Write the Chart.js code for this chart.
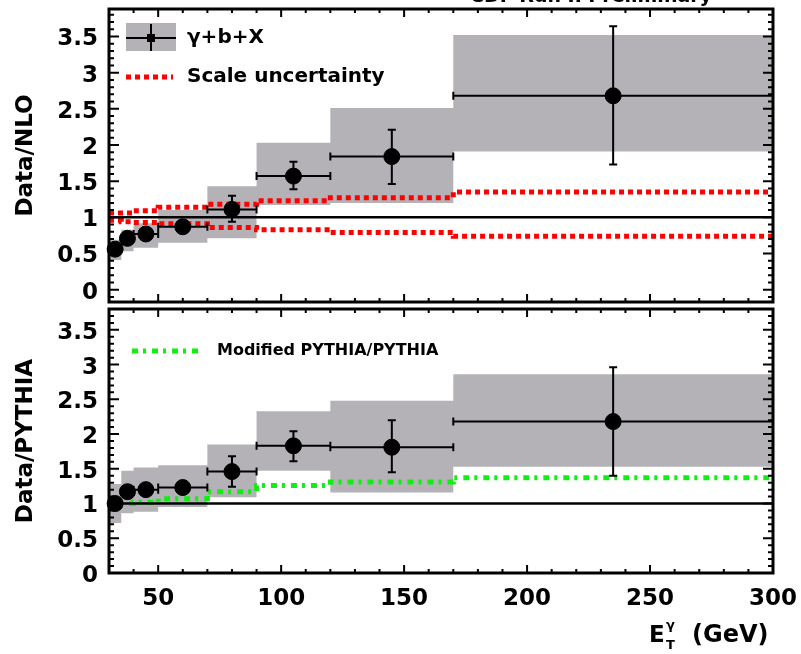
<!doctype html>
<html lang="en">
<head>
<meta charset="utf-8">
<title>Data/NLO and Data/PYTHIA</title>
<style>
  * { margin: 0; padding: 0; }
  body { width: 801px; height: 654px; background: #fff; position: relative; overflow: hidden; }
  canvas { position: absolute; left: 0; }
  #nloChart { top: 0; }
  #pythiaChart { top: 300px; }
</style>
</head>
<body>
<canvas id="nloChart" width="801" height="311"></canvas>
<canvas id="pythiaChart" width="801" height="354"></canvas>
<script src="https://cdn.jsdelivr.net/npm/chart.js/dist/chart.umd.min.js"></script>
<script>
// binning in E_T (GeV)
const binEdges = [30, 35, 40, 50, 70, 90, 120, 170, 300];
const binCenters = [32.5, 37.5, 45, 60, 80, 105, 145, 235];
const xTicks = [50, 100, 150, 200, 250, 300];
const yTicks = [0, 0.5, 1, 1.5, 2, 2.5, 3, 3.5];

// upper panel: data / NLO
const nloRatio = [0.56, 0.71, 0.77, 0.87, 1.11, 1.57, 1.84, 2.68];
const nloErrHi = [0.60, 0.75, 0.81, 0.91, 1.30, 1.77, 2.21, 3.64];
const nloErrLo = [0.52, 0.67, 0.73, 0.83, 0.94, 1.39, 1.46, 1.73];
const nloSystHi = [0.69, 0.83, 0.92, 1.10, 1.43, 2.03, 2.51, 3.52];
const nloSystLo = [0.41, 0.53, 0.58, 0.65, 0.71, 1.17, 1.20, 1.91];
const scaleHi = [1.06, 1.06, 1.09, 1.14, 1.18, 1.23, 1.27, 1.35];
const scaleLo = [0.96, 0.94, 0.93, 0.91, 0.86, 0.83, 0.79, 0.74];

// lower panel: data / PYTHIA
const pyRatio = [1.00, 1.17, 1.20, 1.23, 1.46, 1.83, 1.81, 2.18];
const pyErrHi = [1.04, 1.21, 1.24, 1.27, 1.68, 2.04, 2.20, 2.96];
const pyErrLo = [0.96, 1.13, 1.16, 1.19, 1.24, 1.61, 1.45, 1.40];
const pySystHi = [1.28, 1.47, 1.52, 1.55, 1.85, 2.33, 2.48, 2.86];
const pySystLo = [0.72, 0.86, 0.88, 0.95, 1.09, 1.47, 1.16, 1.53];
const modPythia = [1.00, 1.00, 1.02, 1.07, 1.17, 1.26, 1.31, 1.37];

const font = 'DejaVu Sans';
const gray = 'rgb(180,178,183)';
const red = '#ff0000';
const green = '#11ee11';
const redDash = [5, 4];
const greenDash = [6, 5, 3, 6];

// histogram-like step points: value of bin i held from edge i to edge i+1
function steps(vals) {
  return binEdges.map((x, i) => ({ x, y: vals[Math.min(i, vals.length - 1)] }));
}

function datasetsFor(ratio, errLo, errHi, systLo, systHi, label, curves) {
  const sets = [{
    label,
    data: binCenters.map((x, i) => ({ x, y: ratio[i] })),
    errLo, errHi,
    showLine: false,
    pointRadius: 8,
    pointHoverRadius: 8,
    pointBackgroundColor: '#000',
    pointBorderColor: '#000',
    clip: false,
    order: 0
  }, {
    label: 'unity',
    data: [{ x: 30, y: 1 }, { x: 300, y: 1 }],
    borderColor: '#000',
    borderWidth: 2.5,
    pointRadius: 0,
    order: 1
  }];
  curves.forEach(c => sets.push({
    label: c.label,
    data: steps(c.values),
    stepped: true,
    borderColor: c.color,
    borderWidth: 5,
    borderDash: c.dash,
    pointRadius: 0,
    order: 2
  }));
  sets.push({
    label: 'syst',
    data: steps(systHi),
    stepped: true,
    borderColor: 'rgba(0,0,0,0)',
    borderWidth: 1,
    backgroundColor: gray,
    fill: '+1',
    pointRadius: 0,
    order: 3
  }, {
    label: 'syst low',
    data: steps(systLo),
    stepped: true,
    borderColor: 'rgba(0,0,0,0)',
    borderWidth: 1,
    pointRadius: 0,
    order: 3
  });
  return sets;
}

const errorBars = {
  id: 'errorBars',
  beforeDatasetDraw(chart, args) {
    const ds = chart.data.datasets[args.index];
    if (!ds.errLo) return;
    const { ctx, scales: { x, y } } = chart;
    ctx.save();
    ctx.strokeStyle = '#000';
    ctx.lineWidth = 2;
    ctx.beginPath();
    ds.data.forEach((p, i) => {
      const px = x.getPixelForValue(p.x), py = y.getPixelForValue(p.y);
      const x0 = x.getPixelForValue(binEdges[i]), x1 = x.getPixelForValue(binEdges[i + 1]);
      const y0 = y.getPixelForValue(ds.errLo[i]), y1 = y.getPixelForValue(ds.errHi[i]);
      ctx.moveTo(x0, py); ctx.lineTo(x1, py);
      ctx.moveTo(x0, py - 4); ctx.lineTo(x0, py + 4);
      ctx.moveTo(x1, py - 4); ctx.lineTo(x1, py + 4);
      ctx.moveTo(px, y0); ctx.lineTo(px, y1);
      ctx.moveTo(px - 4, y0); ctx.lineTo(px + 4, y0);
      ctx.moveTo(px - 4, y1); ctx.lineTo(px + 4, y1);
    });
    ctx.stroke();
    ctx.restore();
  }
};

// ROOT style frame with inward ticks on all four sides
const frame = {
  id: 'frame',
  afterDraw(chart) {
    const { ctx, chartArea: { left, right, top, bottom }, scales: { x, y } } = chart;
    ctx.save();
    ctx.strokeStyle = '#000';
    ctx.lineWidth = 2;
    ctx.beginPath();
    for (let v = 30; v <= 300; v += 10) {
      const px = x.getPixelForValue(v);
      const len = v % 50 === 0 ? 8 : 4;
      ctx.moveTo(px, bottom); ctx.lineTo(px, bottom - len);
      ctx.moveTo(px, top); ctx.lineTo(px, top + len);
    }
    for (let k = Math.ceil(y.min * 10); k <= Math.floor(y.max * 10); k++) {
      const py = y.getPixelForValue(k / 10);
      const len = k % 5 === 0 ? 10 : 5;
      ctx.moveTo(left, py); ctx.lineTo(left + len, py);
      ctx.moveTo(right, py); ctx.lineTo(right - len, py);
    }
    ctx.stroke();
    ctx.lineWidth = 3;
    ctx.strokeRect(left, top, right - left, bottom - top);
    ctx.restore();
  }
};

const nloLegend = {
  id: 'nloLegend',
  afterDraw(chart) {
    const { ctx } = chart;
    const ds = chart.data.datasets;
    ctx.save();
    ctx.fillStyle = '#000';
    ctx.font = `bold 19px ${font}`;
    ctx.textAlign = 'center';
    ctx.textBaseline = 'alphabetic';
    ctx.fillText('CDF Run II Preliminary', 591, 2);

    ctx.fillStyle = gray;
    ctx.fillRect(126, 23, 50, 28);
    ctx.strokeStyle = '#000';
    ctx.lineWidth = 2;
    ctx.beginPath();
    ctx.moveTo(126, 38); ctx.lineTo(176, 38);
    ctx.moveTo(151, 24); ctx.lineTo(151, 51);
    ctx.stroke();
    ctx.fillStyle = '#000';
    ctx.fillRect(147, 34, 8, 8);

    ctx.strokeStyle = red;
    ctx.lineWidth = 5;
    ctx.setLineDash(redDash);
    ctx.beginPath();
    ctx.moveTo(126, 77); ctx.lineTo(173, 77);
    ctx.stroke();
    ctx.setLineDash([]);

    ctx.fillStyle = '#000';
    ctx.font = `bold 20px ${font}`;
    ctx.textAlign = 'left';
    ctx.textBaseline = 'middle';
    ctx.fillText(ds[0].label, 187, 38);
    ctx.fillText(ds[2].label, 187, 77);
    ctx.restore();
  }
};

const pyLegend = {
  id: 'pyLegend',
  afterDraw(chart) {
    const { ctx } = chart;
    const ds = chart.data.datasets;
    ctx.save();
    ctx.strokeStyle = green;
    ctx.lineWidth = 5;
    ctx.setLineDash(greenDash);
    ctx.beginPath();
    ctx.moveTo(132, 51); ctx.lineTo(200, 51);
    ctx.stroke();
    ctx.setLineDash([]);
    ctx.fillStyle = '#000';
    ctx.font = `bold 16px ${font}`;
    ctx.textAlign = 'left';
    ctx.textBaseline = 'middle';
    ctx.fillText(ds[2].label, 217, 51);

    // x axis title E_T^gamma (GeV)
    ctx.textBaseline = 'alphabetic';
    ctx.font = `bold 23px ${font}`;
    ctx.fillText('E', 649, 342);
    ctx.font = `bold 13px ${font}`;
    ctx.fillText('T', 666, 349);
    ctx.fillText('γ', 666, 329);
    ctx.font = `bold 24px ${font}`;
    ctx.fillText('(GeV)', 692, 342);
    ctx.restore();
  }
};

function yAxis(title, min, max) {
  return {
    type: 'linear',
    min, max,
    afterFit(scale) {
      scale.width = 109;
      scale.paddingTop = 0;
      scale.paddingBottom = 0;
    },
    afterBuildTicks(scale) { scale.ticks = yTicks.map(v => ({ value: v })); },
    grid: { display: false, drawTicks: false },
    border: { display: false },
    ticks: {
      color: '#000',
      padding: 11,
      labelOffset: 3,
      font: { family: font, weight: 'bold', size: 23 },
      callback: v => String(v)
    },
    title: {
      display: true,
      text: title,
      color: '#000',
      padding: { top: 12, bottom: 0 },
      font: { family: font, weight: 'bold', size: 23 }
    }
  };
}

new Chart(document.getElementById('nloChart'), {
  type: 'line',
  data: {
    datasets: datasetsFor(nloRatio, nloErrLo, nloErrHi, nloSystLo, nloSystHi, 'γ+b+X', [
      { label: 'Scale uncertainty', values: scaleHi, color: red, dash: redDash },
      { label: 'Scale uncertainty low', values: scaleLo, color: red, dash: redDash }
    ])
  },
  options: {
    responsive: false,
    devicePixelRatio: 1,
    animation: false,
    layout: { padding: { left: 0, right: 28, top: 9, bottom: 2 } },
    plugins: { legend: { display: false }, tooltip: { enabled: false } },
    scales: {
      x: { type: 'linear', min: 30, max: 300, display: false },
      y: yAxis('Data/NLO', -0.17, 3.88)
    }
  },
  plugins: [frame, errorBars, nloLegend]
});

new Chart(document.getElementById('pythiaChart'), {
  type: 'line',
  data: {
    datasets: datasetsFor(pyRatio, pyErrLo, pyErrHi, pySystLo, pySystHi, 'γ+b+X', [
      { label: 'Modified PYTHIA/PYTHIA', values: modPythia, color: green, dash: greenDash }
    ])
  },
  options: {
    responsive: false,
    devicePixelRatio: 1,
    animation: false,
    layout: { padding: { left: 0, right: 28, top: 4, bottom: 41 } },
    plugins: { legend: { display: false }, tooltip: { enabled: false } },
    scales: {
      x: {
        type: 'linear',
        min: 30, max: 300,
        afterFit(scale) {
          scale.height = 40;
          scale.paddingLeft = 0;
          scale.paddingRight = 0;
        },
        afterBuildTicks(scale) { scale.ticks = xTicks.map(v => ({ value: v })); },
        grid: { display: false, drawTicks: false },
        border: { display: false },
        ticks: {
          color: '#000',
          padding: 12,
          maxRotation: 0,
          font: { family: font, weight: 'bold', size: 23 },
          callback: v => String(v)
        }
      },
      y: yAxis('Data/PYTHIA', 0, 3.8)
    }
  },
  plugins: [frame, errorBars, pyLegend]
});
</script>
</body>
</html>
